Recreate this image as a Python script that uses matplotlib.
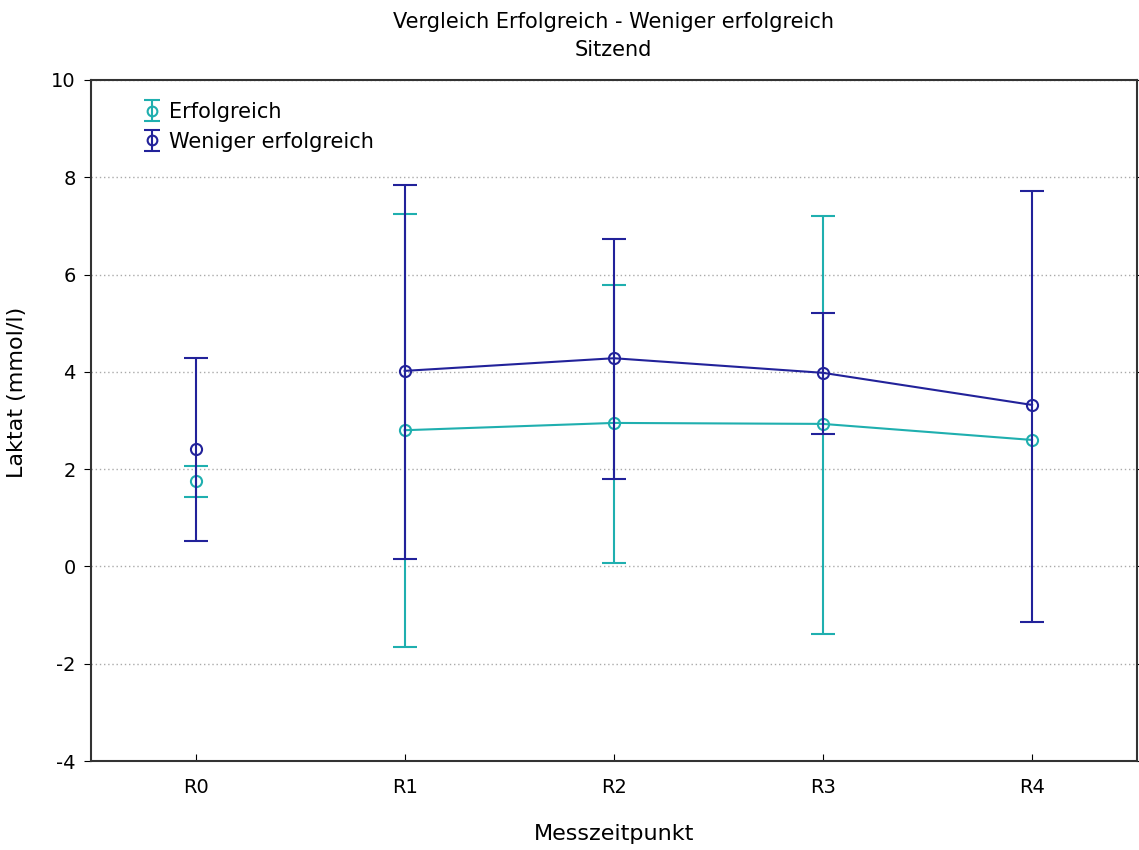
import numpy as np
import matplotlib
matplotlib.use("Agg")
import matplotlib.pyplot as plt

plt.rcParams['font.family'] = ['DejaVu Sans']
plt.rcParams['axes.unicode_minus'] = False

categories = ["R0", "R1", "R2", "R3", "R4"]
erf_mean = [1.75, 2.80, 2.95, 2.93, 2.60]
erf_upper = [2.07, 7.25, 5.78, 7.20, np.nan]
erf_lower = [1.42, -1.65, 0.07, -1.38, np.nan]
wen_mean = [2.42, 4.02, 4.28, 3.98, 3.32]
wen_upper = [4.28, 7.84, 6.73, 5.20, 7.72]
wen_lower = [0.52, 0.15, 1.80, 2.72, -1.15]

teal = '#1FAFAF'
navy = '#22229A'

fig = plt.figure(figsize=(11.39, 8.5), dpi=100)
ax = fig.add_axes([0.0799, 0.1047, 0.918, 0.8012])
x = np.arange(len(categories))

def draw(mean, upper, lower, color, label, z):
    mean = np.array(mean); upper = np.array(upper); lower = np.array(lower)
    yerr = np.vstack([mean - lower, upper - mean])
    ax.plot(x[1:], mean[1:], color=color, lw=1.5, zorder=z)
    ax.errorbar(x, mean, yerr=yerr, fmt='none', ecolor=color, elinewidth=1.5,
                capsize=8.5, capthick=1.5, zorder=z + 0.5)
    ax.plot(x, mean, 'o', ms=8, mfc='none', mec=color, mew=1.5, zorder=z + 1)
    h = ax.errorbar([np.nan], [np.nan], yerr=[[1], [1]], fmt='o', color=color,
                    mfc='none', mec=color, ms=7, mew=1.5, capsize=6, capthick=1.5,
                    elinewidth=1.5, label=label)
    return h

h1 = draw(erf_mean, erf_upper, erf_lower, teal, "Erfolgreich", 2)
h2 = draw(wen_mean, wen_upper, wen_lower, navy, "Weniger erfolgreich", 4)

ax.set_xlim(-0.5, 4.5)
ax.set_ylim(-4, 10)
ax.set_yticks(range(-4, 11, 2))
ax.set_xticks(x)
ax.set_xticklabels(categories)
ax.yaxis.grid(True, linestyle=(0, (1, 2)), color='#aaaaaa', lw=1)
ax.set_axisbelow(True)
for s in ax.spines.values():
    s.set_color('#333333'); s.set_linewidth(1.5)
ax.tick_params(axis='y', direction='out', length=5, labelsize=14, right=True, pad=6)
ax.tick_params(axis='x', direction='in', length=5, labelsize=14, pad=12)

ax.set_xlabel("Messzeitpunkt", fontsize=16, labelpad=20)
ax.set_ylabel("Laktat (mmol/l)", fontsize=16)
ax.yaxis.set_label_coords(-0.061, 0.542)
ax.set_title("Vergleich Erfolgreich - Weniger erfolgreich\nSitzend", fontsize=15,
             pad=17, linespacing=1.5)

leg = ax.legend(handles=[h1, h2], loc='upper left', bbox_to_anchor=(0.031, 0.995),
                frameon=False, fontsize=15, handlelength=0.9, handletextpad=0.4,
                labelspacing=0.45)

fig.savefig("out.png", dpi=100)
